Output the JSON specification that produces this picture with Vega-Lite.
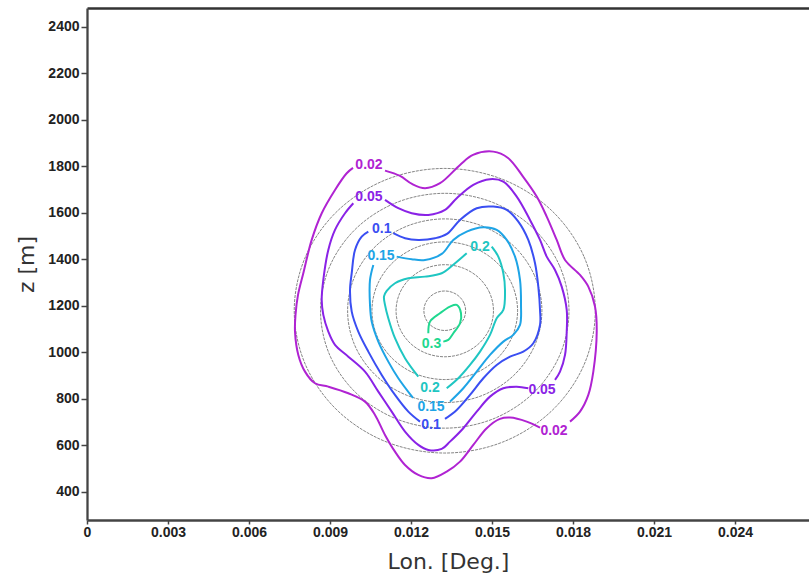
{
  "$schema": "https://vega.github.io/schema/vega-lite/v6.json",
  "width": 722,
  "height": 512,
  "autosize": {"type": "none"},
  "padding": {"left": 87, "top": 8, "right": 0, "bottom": 56},
  "background": "white",
  "view": {"stroke": null},
  "config": {
    "font": "Liberation Sans",
    "axis": {
      "grid": false,
      "domainColor": "#444",
      "domainWidth": 2.3,
      "tickColor": "#444",
      "tickWidth": 1.5,
      "labelFont": "Liberation Sans",
      "labelFontSize": 14,
      "labelFontWeight": "bold",
      "labelColor": "#222",
      "labelFlush": false,
      "titleFont": "DejaVu Sans",
      "titleFontSize": 22,
      "titleFontWeight": "normal",
      "titleColor": "#333"
    }
  },
  "datasets": {
    "circles": [
      {"r":85,"i":0,"lon":0.014024,"z":1178},{"r":85,"i":1,"lon":0.013965,"z":1210.5},{"r":85,"i":2,"lon":0.013797,"z":1238.1},{"r":85,"i":3,"lon":0.013546,"z":1256.5},
      {"r":85,"i":4,"lon":0.01325,"z":1263},{"r":85,"i":5,"lon":0.012954,"z":1256.5},{"r":85,"i":6,"lon":0.012703,"z":1238.1},{"r":85,"i":7,"lon":0.012535,"z":1210.5},
      {"r":85,"i":8,"lon":0.012476,"z":1178},{"r":85,"i":9,"lon":0.012535,"z":1145.5},{"r":85,"i":10,"lon":0.012703,"z":1117.9},{"r":85,"i":11,"lon":0.012954,"z":1099.5},
      {"r":85,"i":12,"lon":0.01325,"z":1093},{"r":85,"i":13,"lon":0.013546,"z":1099.5},{"r":85,"i":14,"lon":0.013797,"z":1117.9},{"r":85,"i":15,"lon":0.013965,"z":1145.5},

      {"r":198,"i":0,"lon":0.015054,"z":1178},{"r":198,"i":1,"lon":0.014917,"z":1253.8},{"r":198,"i":2,"lon":0.014526,"z":1318},{"r":198,"i":3,"lon":0.01394,"z":1360.9},
      {"r":198,"i":4,"lon":0.01325,"z":1376},{"r":198,"i":5,"lon":0.01256,"z":1360.9},{"r":198,"i":6,"lon":0.011974,"z":1318},{"r":198,"i":7,"lon":0.011583,"z":1253.8},
      {"r":198,"i":8,"lon":0.011446,"z":1178},{"r":198,"i":9,"lon":0.011583,"z":1102.2},{"r":198,"i":10,"lon":0.011974,"z":1038},{"r":198,"i":11,"lon":0.01256,"z":995.1},
      {"r":198,"i":12,"lon":0.01325,"z":980},{"r":198,"i":13,"lon":0.01394,"z":995.1},{"r":198,"i":14,"lon":0.014526,"z":1038},{"r":198,"i":15,"lon":0.014917,"z":1102.2},

      {"r":296,"i":0,"lon":0.015947,"z":1178},{"r":296,"i":1,"lon":0.015742,"z":1291.3},{"r":296,"i":2,"lon":0.015157,"z":1387.3},{"r":296,"i":3,"lon":0.014282,"z":1451.5},
      {"r":296,"i":4,"lon":0.01325,"z":1474},{"r":296,"i":5,"lon":0.012218,"z":1451.5},{"r":296,"i":6,"lon":0.011343,"z":1387.3},{"r":296,"i":7,"lon":0.010758,"z":1291.3},
      {"r":296,"i":8,"lon":0.010553,"z":1178},{"r":296,"i":9,"lon":0.010758,"z":1064.7},{"r":296,"i":10,"lon":0.011343,"z":968.7},{"r":296,"i":11,"lon":0.012218,"z":904.5},
      {"r":296,"i":12,"lon":0.01325,"z":882},{"r":296,"i":13,"lon":0.014282,"z":904.5},{"r":296,"i":14,"lon":0.015157,"z":968.7},{"r":296,"i":15,"lon":0.015742,"z":1064.7},

      {"r":395,"i":0,"lon":0.016848,"z":1178},{"r":395,"i":1,"lon":0.016574,"z":1329.2},{"r":395,"i":2,"lon":0.015794,"z":1457.3},{"r":395,"i":3,"lon":0.014627,"z":1542.9},
      {"r":395,"i":4,"lon":0.01325,"z":1573},{"r":395,"i":5,"lon":0.011873,"z":1542.9},{"r":395,"i":6,"lon":0.010706,"z":1457.3},{"r":395,"i":7,"lon":0.009926,"z":1329.2},
      {"r":395,"i":8,"lon":0.009652,"z":1178},{"r":395,"i":9,"lon":0.009926,"z":1026.8},{"r":395,"i":10,"lon":0.010706,"z":898.7},{"r":395,"i":11,"lon":0.011873,"z":813.1},
      {"r":395,"i":12,"lon":0.01325,"z":783},{"r":395,"i":13,"lon":0.014627,"z":813.1},{"r":395,"i":14,"lon":0.015794,"z":898.7},{"r":395,"i":15,"lon":0.016574,"z":1026.8},

      {"r":505,"i":0,"lon":0.017851,"z":1178},{"r":505,"i":1,"lon":0.017501,"z":1371.3},{"r":505,"i":2,"lon":0.016503,"z":1535.1},{"r":505,"i":3,"lon":0.015011,"z":1644.6},
      {"r":505,"i":4,"lon":0.01325,"z":1683},{"r":505,"i":5,"lon":0.011489,"z":1644.6},{"r":505,"i":6,"lon":0.009997,"z":1535.1},{"r":505,"i":7,"lon":0.008999,"z":1371.3},
      {"r":505,"i":8,"lon":0.008649,"z":1178},{"r":505,"i":9,"lon":0.008999,"z":984.7},{"r":505,"i":10,"lon":0.009997,"z":820.9},{"r":505,"i":11,"lon":0.011489,"z":711.4},
      {"r":505,"i":12,"lon":0.01325,"z":673},{"r":505,"i":13,"lon":0.015011,"z":711.4},{"r":505,"i":14,"lon":0.016503,"z":820.9},{"r":505,"i":15,"lon":0.017501,"z":984.7},

      {"r":612,"i":0,"lon":0.018825,"z":1178},{"r":612,"i":1,"lon":0.018401,"z":1412.2},{"r":612,"i":2,"lon":0.017192,"z":1610.7},{"r":612,"i":3,"lon":0.015384,"z":1743.4},
      {"r":612,"i":4,"lon":0.01325,"z":1790},{"r":612,"i":5,"lon":0.011116,"z":1743.4},{"r":612,"i":6,"lon":0.009308,"z":1610.7},{"r":612,"i":7,"lon":0.008099,"z":1412.2},
      {"r":612,"i":8,"lon":0.007675,"z":1178},{"r":612,"i":9,"lon":0.008099,"z":943.8},{"r":612,"i":10,"lon":0.009308,"z":745.3},{"r":612,"i":11,"lon":0.011116,"z":612.6},
      {"r":612,"i":12,"lon":0.01325,"z":566},{"r":612,"i":13,"lon":0.015384,"z":612.6},{"r":612,"i":14,"lon":0.017192,"z":745.3},{"r":612,"i":15,"lon":0.018401,"z":943.8}
    ],
    "contours": [
      {"level":"0.02","seg":"0.02a","i":0,"lon":0.011037,"z":1780.6},
      {"level":"0.02","seg":"0.02a","i":1,"lon":0.011593,"z":1757.8},
      {"level":"0.02","seg":"0.02a","i":2,"lon":0.012037,"z":1723.4},
      {"level":"0.02","seg":"0.02a","i":3,"lon":0.012519,"z":1704.9},
      {"level":"0.02","seg":"0.02a","i":4,"lon":0.013074,"z":1726.4},
      {"level":"0.02","seg":"0.02a","i":5,"lon":0.013815,"z":1805.1},
      {"level":"0.02","seg":"0.02a","i":6,"lon":0.014296,"z":1848.1},
      {"level":"0.02","seg":"0.02a","i":7,"lon":0.015048,"z":1862.3},
      {"level":"0.02","seg":"0.02a","i":8,"lon":0.015593,"z":1835.2},
      {"level":"0.02","seg":"0.02a","i":9,"lon":0.016148,"z":1754.8},
      {"level":"0.02","seg":"0.02a","i":10,"lon":0.016656,"z":1668.8},
      {"level":"0.02","seg":"0.02a","i":11,"lon":0.017026,"z":1582.8},
      {"level":"0.02","seg":"0.02a","i":12,"lon":0.017396,"z":1482.6},
      {"level":"0.02","seg":"0.02a","i":13,"lon":0.017704,"z":1396.5},
      {"level":"0.02","seg":"0.02a","i":14,"lon":0.018259,"z":1332.0},
      {"level":"0.02","seg":"0.02a","i":15,"lon":0.018567,"z":1281.7},
      {"level":"0.02","seg":"0.02a","i":16,"lon":0.018815,"z":1195.7},
      {"level":"0.02","seg":"0.02a","i":17,"lon":0.018878,"z":1088.2},
      {"level":"0.02","seg":"0.02a","i":18,"lon":0.018752,"z":916.1},
      {"level":"0.02","seg":"0.02a","i":19,"lon":0.018567,"z":815.9},
      {"level":"0.02","seg":"0.02a","i":20,"lon":0.018259,"z":744.1},
      {"level":"0.02","seg":"0.02a","i":21,"lon":0.017889,"z":701.1},

      {"level":"0.02","seg":"0.02b","i":0,"lon":0.016778,"z":675.3},
      {"level":"0.02","seg":"0.02b","i":1,"lon":0.016285,"z":701.1},
      {"level":"0.02","seg":"0.02b","i":2,"lon":0.015667,"z":718.3},
      {"level":"0.02","seg":"0.02b","i":3,"lon":0.015296,"z":712.7},
      {"level":"0.02","seg":"0.02b","i":4,"lon":0.014804,"z":672.7},
      {"level":"0.02","seg":"0.02b","i":5,"lon":0.014307,"z":600.9},
      {"level":"0.02","seg":"0.02b","i":6,"lon":0.013815,"z":529.0},
      {"level":"0.02","seg":"0.02b","i":7,"lon":0.013322,"z":486.0},
      {"level":"0.02","seg":"0.02b","i":8,"lon":0.012767,"z":457.6},
      {"level":"0.02","seg":"0.02b","i":9,"lon":0.01227,"z":471.8},
      {"level":"0.02","seg":"0.02b","i":10,"lon":0.011778,"z":514.8},
      {"level":"0.02","seg":"0.02b","i":11,"lon":0.011407,"z":572.0},
      {"level":"0.02","seg":"0.02b","i":12,"lon":0.011037,"z":643.9},
      {"level":"0.02","seg":"0.02b","i":13,"lon":0.010667,"z":729.9},
      {"level":"0.02","seg":"0.02b","i":14,"lon":0.010296,"z":787.1},
      {"level":"0.02","seg":"0.02b","i":15,"lon":0.009678,"z":823.2},
      {"level":"0.02","seg":"0.02b","i":16,"lon":0.008937,"z":851.6},
      {"level":"0.02","seg":"0.02b","i":17,"lon":0.008444,"z":866.2},
      {"level":"0.02","seg":"0.02b","i":18,"lon":0.008074,"z":916.1},
      {"level":"0.02","seg":"0.02b","i":19,"lon":0.007826,"z":987.9},
      {"level":"0.02","seg":"0.02b","i":20,"lon":0.007704,"z":1086.9},
      {"level":"0.02","seg":"0.02b","i":21,"lon":0.007722,"z":1160.0},
      {"level":"0.02","seg":"0.02b","i":22,"lon":0.007815,"z":1246.0},
      {"level":"0.02","seg":"0.02b","i":23,"lon":0.008011,"z":1339.3},
      {"level":"0.02","seg":"0.02b","i":24,"lon":0.008322,"z":1482.6},
      {"level":"0.02","seg":"0.02b","i":25,"lon":0.008693,"z":1597.4},
      {"level":"0.02","seg":"0.02b","i":26,"lon":0.009185,"z":1697.6},
      {"level":"0.02","seg":"0.02b","i":27,"lon":0.009619,"z":1769.4},
      {"level":"0.02","seg":"0.02b","i":28,"lon":0.009852,"z":1792.2},

      {"level":"0.05","seg":"0.05a","i":0,"lon":0.011037,"z":1654.6},
      {"level":"0.05","seg":"0.05a","i":1,"lon":0.01153,"z":1618.9},
      {"level":"0.05","seg":"0.05a","i":2,"lon":0.012026,"z":1597.4},
      {"level":"0.05","seg":"0.05a","i":3,"lon":0.012641,"z":1590.1},
      {"level":"0.05","seg":"0.05a","i":4,"lon":0.013259,"z":1611.6},
      {"level":"0.05","seg":"0.05a","i":5,"lon":0.013693,"z":1661.9},
      {"level":"0.05","seg":"0.05a","i":6,"lon":0.014307,"z":1719.1},
      {"level":"0.05","seg":"0.05a","i":7,"lon":0.014926,"z":1743.6},
      {"level":"0.05","seg":"0.05a","i":8,"lon":0.015419,"z":1733.3},
      {"level":"0.05","seg":"0.05a","i":9,"lon":0.015915,"z":1668.8},
      {"level":"0.05","seg":"0.05a","i":10,"lon":0.016407,"z":1568.6},
      {"level":"0.05","seg":"0.05a","i":11,"lon":0.016778,"z":1482.6},
      {"level":"0.05","seg":"0.05a","i":12,"lon":0.017026,"z":1410.7},
      {"level":"0.05","seg":"0.05a","i":13,"lon":0.017333,"z":1353.5},
      {"level":"0.05","seg":"0.05a","i":14,"lon":0.017581,"z":1281.7},
      {"level":"0.05","seg":"0.05a","i":15,"lon":0.017767,"z":1181.5},
      {"level":"0.05","seg":"0.05a","i":16,"lon":0.017767,"z":1088.2},
      {"level":"0.05","seg":"0.05a","i":17,"lon":0.017704,"z":987.9},
      {"level":"0.05","seg":"0.05a","i":18,"lon":0.017519,"z":916.1},
      {"level":"0.05","seg":"0.05a","i":19,"lon":0.017333,"z":880.4},

      {"level":"0.05","seg":"0.05b","i":0,"lon":0.016344,"z":844.7},
      {"level":"0.05","seg":"0.05b","i":1,"lon":0.015915,"z":851.6},
      {"level":"0.05","seg":"0.05b","i":2,"lon":0.015419,"z":844.7},
      {"level":"0.05","seg":"0.05b","i":3,"lon":0.014926,"z":808.6},
      {"level":"0.05","seg":"0.05b","i":4,"lon":0.014433,"z":744.1},
      {"level":"0.05","seg":"0.05b","i":5,"lon":0.013937,"z":672.7},
      {"level":"0.05","seg":"0.05b","i":6,"lon":0.013444,"z":615.1},
      {"level":"0.05","seg":"0.05b","i":7,"lon":0.013137,"z":583.7},
      {"level":"0.05","seg":"0.05b","i":8,"lon":0.012641,"z":579.3},
      {"level":"0.05","seg":"0.05b","i":9,"lon":0.01227,"z":600.9},
      {"level":"0.05","seg":"0.05b","i":10,"lon":0.011778,"z":658.1},
      {"level":"0.05","seg":"0.05b","i":11,"lon":0.011285,"z":744.1},
      {"level":"0.05","seg":"0.05b","i":12,"lon":0.010789,"z":830.1},
      {"level":"0.05","seg":"0.05b","i":13,"lon":0.010296,"z":916.1},
      {"level":"0.05","seg":"0.05b","i":14,"lon":0.009678,"z":980.6},
      {"level":"0.05","seg":"0.05b","i":15,"lon":0.009185,"z":1031.0},
      {"level":"0.05","seg":"0.05b","i":16,"lon":0.008937,"z":1088.2},
      {"level":"0.05","seg":"0.05b","i":17,"lon":0.008752,"z":1160.0},
      {"level":"0.05","seg":"0.05b","i":18,"lon":0.008693,"z":1224.5},
      {"level":"0.05","seg":"0.05b","i":19,"lon":0.008752,"z":1310.5},
      {"level":"0.05","seg":"0.05b","i":20,"lon":0.008937,"z":1439.5},
      {"level":"0.05","seg":"0.05b","i":21,"lon":0.009185,"z":1525.6},
      {"level":"0.05","seg":"0.05b","i":22,"lon":0.009556,"z":1597.4},
      {"level":"0.05","seg":"0.05b","i":23,"lon":0.009863,"z":1640.4},

      {"level":"0.1","seg":"0.1a","i":0,"lon":0.011344,"z":1511.4},
      {"level":"0.1","seg":"0.1a","i":1,"lon":0.011778,"z":1489.9},
      {"level":"0.1","seg":"0.1a","i":2,"lon":0.01227,"z":1482.6},
      {"level":"0.1","seg":"0.1a","i":3,"lon":0.012889,"z":1489.9},
      {"level":"0.1","seg":"0.1a","i":4,"lon":0.013333,"z":1508.4},
      {"level":"0.1","seg":"0.1a","i":5,"lon":0.013815,"z":1568.6},
      {"level":"0.1","seg":"0.1a","i":6,"lon":0.014433,"z":1618.9},
      {"level":"0.1","seg":"0.1a","i":7,"lon":0.015048,"z":1625.8},
      {"level":"0.1","seg":"0.1a","i":8,"lon":0.015544,"z":1611.6},
      {"level":"0.1","seg":"0.1a","i":9,"lon":0.015974,"z":1561.3},
      {"level":"0.1","seg":"0.1a","i":10,"lon":0.016344,"z":1482.6},
      {"level":"0.1","seg":"0.1a","i":11,"lon":0.016593,"z":1382.3},
      {"level":"0.1","seg":"0.1a","i":12,"lon":0.016715,"z":1281.7},
      {"level":"0.1","seg":"0.1a","i":13,"lon":0.016778,"z":1181.5},
      {"level":"0.1","seg":"0.1a","i":14,"lon":0.016778,"z":1117.0},
      {"level":"0.1","seg":"0.1a","i":15,"lon":0.01653,"z":1038.3},
      {"level":"0.1","seg":"0.1a","i":16,"lon":0.016159,"z":1002.2},
      {"level":"0.1","seg":"0.1a","i":17,"lon":0.015667,"z":980.6},
      {"level":"0.1","seg":"0.1a","i":18,"lon":0.015174,"z":944.9},
      {"level":"0.1","seg":"0.1a","i":19,"lon":0.014678,"z":887.7},
      {"level":"0.1","seg":"0.1a","i":20,"lon":0.014185,"z":815.9},
      {"level":"0.1","seg":"0.1a","i":21,"lon":0.013693,"z":751.4},
      {"level":"0.1","seg":"0.1a","i":22,"lon":0.013259,"z":712.7},

      {"level":"0.1","seg":"0.1b","i":0,"lon":0.012333,"z":701.1},
      {"level":"0.1","seg":"0.1b","i":1,"lon":0.0119,"z":744.1},
      {"level":"0.1","seg":"0.1b","i":2,"lon":0.011407,"z":815.9},
      {"level":"0.1","seg":"0.1b","i":3,"lon":0.010915,"z":901.9},
      {"level":"0.1","seg":"0.1b","i":4,"lon":0.010419,"z":1002.2},
      {"level":"0.1","seg":"0.1b","i":5,"lon":0.010048,"z":1088.2},
      {"level":"0.1","seg":"0.1b","i":6,"lon":0.009804,"z":1174.2},
      {"level":"0.1","seg":"0.1b","i":7,"lon":0.009741,"z":1267.5},
      {"level":"0.1","seg":"0.1b","i":8,"lon":0.009804,"z":1339.3},
      {"level":"0.1","seg":"0.1b","i":9,"lon":0.009926,"z":1439.5},
      {"level":"0.1","seg":"0.1b","i":10,"lon":0.010174,"z":1496.8},
      {"level":"0.1","seg":"0.1b","i":11,"lon":0.010419,"z":1518.3},

      {"level":"0.15","seg":"0.15a","i":0,"lon":0.01147,"z":1410.7},
      {"level":"0.15","seg":"0.15a","i":1,"lon":0.012026,"z":1399.5},
      {"level":"0.15","seg":"0.15a","i":2,"lon":0.012519,"z":1396.5},
      {"level":"0.15","seg":"0.15a","i":3,"lon":0.013137,"z":1422.3},
      {"level":"0.15","seg":"0.15a","i":4,"lon":0.013567,"z":1482.6},
      {"level":"0.15","seg":"0.15a","i":5,"lon":0.014063,"z":1518.3},
      {"level":"0.15","seg":"0.15a","i":6,"lon":0.014678,"z":1537.2},
      {"level":"0.15","seg":"0.15a","i":7,"lon":0.015174,"z":1525.6},
      {"level":"0.15","seg":"0.15a","i":8,"lon":0.015544,"z":1482.6},
      {"level":"0.15","seg":"0.15a","i":9,"lon":0.015852,"z":1410.7},
      {"level":"0.15","seg":"0.15a","i":10,"lon":0.016037,"z":1310.5},
      {"level":"0.15","seg":"0.15a","i":11,"lon":0.016074,"z":1203.0},
      {"level":"0.15","seg":"0.15a","i":12,"lon":0.016037,"z":1117.0},
      {"level":"0.15","seg":"0.15a","i":13,"lon":0.015789,"z":1074.0},
      {"level":"0.15","seg":"0.15a","i":14,"lon":0.015419,"z":1045.2},
      {"level":"0.15","seg":"0.15a","i":15,"lon":0.014926,"z":987.9},
      {"level":"0.15","seg":"0.15a","i":16,"lon":0.014433,"z":916.1},
      {"level":"0.15","seg":"0.15a","i":17,"lon":0.013937,"z":844.7},
      {"level":"0.15","seg":"0.15a","i":18,"lon":0.013444,"z":787.1},

      {"level":"0.15","seg":"0.15b","i":0,"lon":0.012074,"z":803.0},
      {"level":"0.15","seg":"0.15b","i":1,"lon":0.01153,"z":887.7},
      {"level":"0.15","seg":"0.15b","i":2,"lon":0.011159,"z":959.1},
      {"level":"0.15","seg":"0.15b","i":3,"lon":0.010789,"z":1045.2},
      {"level":"0.15","seg":"0.15b","i":4,"lon":0.010544,"z":1131.2},
      {"level":"0.15","seg":"0.15b","i":5,"lon":0.010481,"z":1203.0},
      {"level":"0.15","seg":"0.15b","i":6,"lon":0.010481,"z":1310.5},
      {"level":"0.15","seg":"0.15b","i":7,"lon":0.010604,"z":1375.0},

      {"level":"0.2","seg":"0.2a","i":0,"lon":0.014989,"z":1453.7},
      {"level":"0.2","seg":"0.2a","i":1,"lon":0.015233,"z":1410.7},
      {"level":"0.2","seg":"0.2a","i":2,"lon":0.015419,"z":1339.3},
      {"level":"0.2","seg":"0.2a","i":3,"lon":0.015481,"z":1267.5},
      {"level":"0.2","seg":"0.2a","i":4,"lon":0.015419,"z":1181.5},
      {"level":"0.2","seg":"0.2a","i":5,"lon":0.015174,"z":1145.8},
      {"level":"0.2","seg":"0.2a","i":6,"lon":0.014926,"z":1074.0},
      {"level":"0.2","seg":"0.2a","i":7,"lon":0.014556,"z":1002.2},
      {"level":"0.2","seg":"0.2a","i":8,"lon":0.014185,"z":944.9},
      {"level":"0.2","seg":"0.2a","i":9,"lon":0.013752,"z":887.7},
      {"level":"0.2","seg":"0.2a","i":10,"lon":0.013322,"z":844.7},

      {"level":"0.2","seg":"0.2b","i":0,"lon":0.01227,"z":894.6},
      {"level":"0.2","seg":"0.2b","i":1,"lon":0.011778,"z":973.7},
      {"level":"0.2","seg":"0.2b","i":2,"lon":0.011407,"z":1059.8},
      {"level":"0.2","seg":"0.2b","i":3,"lon":0.011159,"z":1145.8},
      {"level":"0.2","seg":"0.2b","i":4,"lon":0.011037,"z":1203.0},
      {"level":"0.2","seg":"0.2b","i":5,"lon":0.011,"z":1240.0},
      {"level":"0.2","seg":"0.2b","i":6,"lon":0.0111,"z":1263.2},
      {"level":"0.2","seg":"0.2b","i":7,"lon":0.011407,"z":1296.3},
      {"level":"0.2","seg":"0.2b","i":8,"lon":0.0119,"z":1317.8},
      {"level":"0.2","seg":"0.2b","i":9,"lon":0.012519,"z":1324.7},
      {"level":"0.2","seg":"0.2b","i":10,"lon":0.013137,"z":1339.3},
      {"level":"0.2","seg":"0.2b","i":11,"lon":0.013556,"z":1375.0},
      {"level":"0.2","seg":"0.2b","i":12,"lon":0.014063,"z":1425.4},

      {"level":"0.3","seg":"0.3a","i":0,"lon":0.012641,"z":1081.2},
      {"level":"0.3","seg":"0.3a","i":1,"lon":0.012704,"z":1131.2},
      {"level":"0.3","seg":"0.3a","i":2,"lon":0.013074,"z":1167.3},
      {"level":"0.3","seg":"0.3a","i":3,"lon":0.013444,"z":1195.7},
      {"level":"0.3","seg":"0.3a","i":4,"lon":0.013693,"z":1203.0},
      {"level":"0.3","seg":"0.3a","i":5,"lon":0.013852,"z":1167.3},
      {"level":"0.3","seg":"0.3a","i":6,"lon":0.013815,"z":1124.3},
      {"level":"0.3","seg":"0.3a","i":7,"lon":0.013567,"z":1081.2},
      {"level":"0.3","seg":"0.3a","i":8,"lon":0.013381,"z":1052.5},
      {"level":"0.3","seg":"0.3a","i":9,"lon":0.013196,"z":1045.2}
    ],
    "labels": [
      {"level":"0.02","lon":0.010444,"z":1805},
      {"level":"0.02","lon":0.017296,"z":661},
      {"level":"0.05","lon":0.010444,"z":1667},
      {"level":"0.05","lon":0.016852,"z":837},
      {"level":"0.1","lon":0.010915,"z":1528},
      {"level":"0.1","lon":0.012741,"z":687},
      {"level":"0.15","lon":0.010889,"z":1414},
      {"level":"0.15","lon":0.012741,"z":766},
      {"level":"0.2","lon":0.014556,"z":1452},
      {"level":"0.2","lon":0.012704,"z":846},
      {"level":"0.3","lon":0.012759,"z":1037}
    ]
  },
  "layer": [
    {
      "data": {"name": "circles"},
      "mark": {"type": "line", "interpolate": "cardinal-closed", "stroke": "#666", "strokeWidth": 0.8, "strokeDash": [3, 1]},
      "encoding": {
        "x": {
          "field": "lon", "type": "quantitative",
          "scale": {"domain": [0, 0.02674], "nice": false, "zero": false},
          "axis": {
            "orient": "bottom",
            "values": [0, 0.003, 0.006, 0.009, 0.012, 0.015, 0.018, 0.021, 0.024],
            "format": ".3~f",
            "tickSize": 4,
            "labelPadding": 1,
            "title": "Lon. [Deg.]",
            "titlePadding": 12
          }
        },
        "y": {
          "field": "z", "type": "quantitative",
          "scale": {"domain": [278, 2480], "nice": false, "zero": false},
          "axis": {
            "values": [400, 600, 800, 1000, 1200, 1400, 1600, 1800, 2000, 2200, 2400],
            "format": "d",
            "tickSize": 6,
            "labelPadding": 2,
            "title": "z [m]",
            "titlePadding": 9
          }
        },
        "detail": {"field": "r", "type": "nominal"},
        "order": {"field": "i", "type": "quantitative"}
      }
    },
    {
      "data": {"name": "contours"},
      "mark": {"type": "line", "interpolate": "catmull-rom", "strokeWidth": 2},
      "encoding": {
        "x": {"field": "lon", "type": "quantitative", "scale": {"domain": [0, 0.02674], "nice": false, "zero": false}, "axis": null},
        "y": {"field": "z", "type": "quantitative", "scale": {"domain": [278, 2480], "nice": false, "zero": false}, "title": "z [m]"},
        "color": {
          "field": "level", "type": "nominal",
          "scale": {"domain": ["0.02", "0.05", "0.1", "0.15", "0.2", "0.3"], "range": ["#b023d2", "#8a22e6", "#3a4ef2", "#1ea4e6", "#1fc6c2", "#1fd890"]},
          "legend": null
        },
        "detail": {"field": "seg", "type": "nominal"},
        "order": {"field": "i", "type": "quantitative"}
      }
    },
    {
      "data": {"name": "labels"},
      "mark": {"type": "text", "font": "Liberation Sans", "fontSize": 14, "fontWeight": "bold", "align": "center", "baseline": "middle"},
      "encoding": {
        "x": {
          "field": "lon", "type": "quantitative",
          "scale": {"domain": [0, 0.02674], "nice": false, "zero": false},
          "axis": {"orient": "top", "ticks": false, "labels": false, "title": null, "domainColor": "#333"}
        },
        "y": {"field": "z", "type": "quantitative", "scale": {"domain": [278, 2480], "nice": false, "zero": false}, "title": "z [m]"},
        "text": {"field": "level", "type": "nominal"},
        "color": {
          "field": "level", "type": "nominal",
          "scale": {"domain": ["0.02", "0.05", "0.1", "0.15", "0.2", "0.3"], "range": ["#b023d2", "#8a22e6", "#3a4ef2", "#1ea4e6", "#1fc6c2", "#1fd890"]},
          "legend": null
        }
      }
    }
  ],
  "resolve": {"axis": {"x": "independent"}}
}
